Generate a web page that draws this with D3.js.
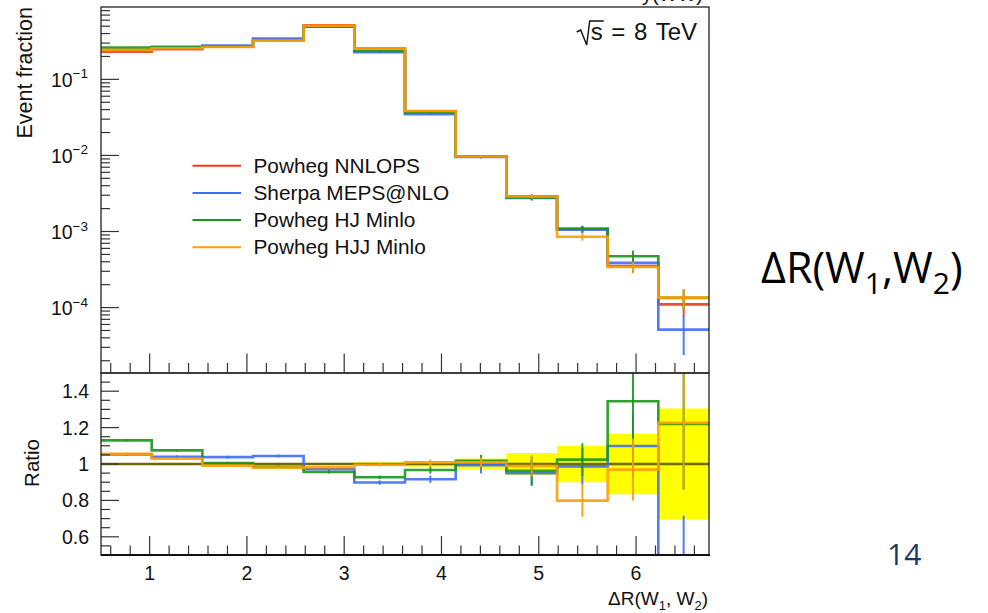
<!DOCTYPE html>
<html><head><meta charset="utf-8">
<script src="https://cdn.jsdelivr.net/npm/d3@7"></script>
<style>body{margin:0;background:#fff;} svg{display:block;}</style>
</head><body>
<svg id="c" width="988" height="613"></svg>
<script>
// ---------------- data ----------------
const binEdges = [0.5, 1.021, 1.542, 2.063, 2.583, 3.104, 3.625, 4.146, 4.667, 5.188, 5.708, 6.229, 6.75];
const seriesNames = ["Powheg NNLOPS", "Sherpa MEPS@NLO", "Powheg HJ Minlo", "Powheg HJJ Minlo"];
const seriesColors = ["#ee3b1e", "#3f6ef6", "#1b961d", "#ff9d00"];
// event fraction per bin
const nnlops = [0.231, 0.249, 0.269, 0.330, 0.515, 0.254, 0.0380, 0.0096, 0.00291, 0.00107, 0.000352, 0.000110];
const sherpa = [0.2432, 0.259, 0.2792, 0.3445, 0.5001, 0.2281, 0.0348, 0.00953, 0.00276, 0.001056, 0.000387, 0.0000513];
const hjMinlo = [0.261, 0.2677, 0.2703, 0.325, 0.4923, 0.2355, 0.03675, 0.00977, 0.0028, 0.001096, 0.000473, 0.000134];
const hjjMinlo = [0.2439, 0.2562, 0.2666, 0.3234, 0.5057, 0.253, 0.03834, 0.00969, 0.00288, 0.000855, 0.000341, 0.000135];
// ratio to Powheg NNLOPS
const ratioSherpa = [1.053, 1.040, 1.038, 1.044, 0.971, 0.898, 0.916, 0.993, 0.949, 0.987, 1.099, 0.466];
const ratioHJ = [1.130, 1.075, 1.005, 0.985, 0.956, 0.927, 0.967, 1.018, 0.962, 1.024, 1.345, 1.220];
const ratioHJJ = [1.056, 1.029, 0.991, 0.980, 0.982, 0.996, 1.009, 1.009, 0.989, 0.799, 0.969, 1.226];
// uncertainties (ratio units, half-width)
const bandNNLOPS = [0.005, 0.006, 0.006, 0.006, 0.006, 0.010, 0.015, 0.030, 0.060, 0.100, 0.166, 0.305];
const errSherpa = [0.007, 0.007, 0.008, 0.008, 0.008, 0.012, 0.020, 0.045, 0.070, 0.100, 0.170, 0.250];
const errHJ = [0.006, 0.006, 0.007, 0.007, 0.008, 0.010, 0.020, 0.032, 0.078, 0.090, 0.250, 0.360];
const errHJJ = [0.006, 0.006, 0.006, 0.006, 0.007, 0.010, 0.015, 0.027, 0.060, 0.090, 0.170, 0.360];
const xTicks = [1, 2, 3, 4, 5, 6];
const yTopTicks = [1e-1, 1e-2, 1e-3, 1e-4];
const yTopLabels = ["\u22121", "\u22122", "\u22123", "\u22124"];
const yRatioTicks = [0.6, 0.8, 1.0, 1.2, 1.4];
const yRatioLabels = ["0.6", "0.8", "1", "1.2", "1.4"];

// ---------------- layout ----------------
const svg = d3.select("#c");
const L = 101, R = 709, T = 7, MID = 373, B = 555;
const x = d3.scaleLinear().domain([0.5, 6.75]).range([L, R]);
const yTop = d3.scaleLog().domain([1.38e-5, 0.894]).range([MID, T]);
const yR = d3.scaleLinear().domain([0.5, 1.5]).range([B, MID]);
const FONT = "'Liberation Sans', Arial, Helvetica, sans-serif";
const tickColor = "#333";

const defs = svg.append("defs");
defs.append("clipPath").attr("id", "clipTop").append("rect").attr("x", L).attr("y", T).attr("width", R - L).attr("height", MID - T);
defs.append("clipPath").attr("id", "clipR").append("rect").attr("x", L).attr("y", MID).attr("width", R - L).attr("height", B - MID);

function stepPts(vals) {
  const pts = [];
  vals.forEach((v, i) => { pts.push([binEdges[i], v]); pts.push([binEdges[i + 1], v]); });
  return pts;
}
const centers = binEdges.slice(0, -1).map((e, i) => (e + binEdges[i + 1]) / 2);

// ---------------- top panel ----------------
const gTop = svg.append("g").attr("clip-path", "url(#clipTop)");
const topSeries = [
  {v: nnlops, r: nnlops.map(() => 1), e: bandNNLOPS, c: seriesColors[0]},
  {v: sherpa, r: ratioSherpa, e: errSherpa, c: seriesColors[1]},
  {v: hjMinlo, r: ratioHJ, e: errHJ, c: seriesColors[2]},
  {v: hjjMinlo, r: ratioHJJ, e: errHJJ, c: seriesColors[3]}
];
const lineTop = d3.line().x(d => x(d[0])).y(d => yTop(d[1]));
topSeries.forEach(s => {
  gTop.append("path").attr("d", lineTop(stepPts(s.v))).attr("fill", "none")
    .attr("stroke", s.c).attr("stroke-width", 2.6).attr("stroke-opacity", 0.9);
  s.v.forEach((v, i) => {
    const rel = s.e[i] / s.r[i];
    gTop.append("line").attr("x1", x(centers[i])).attr("x2", x(centers[i]))
      .attr("y1", yTop(v * (1 + rel))).attr("y2", yTop(Math.max(v * (1 - rel), 1e-7)))
      .attr("stroke", s.c).attr("stroke-width", 2).attr("stroke-opacity", 0.9);
  });
});

// ---------------- ratio panel ----------------
const gR = svg.append("g").attr("clip-path", "url(#clipR)");
gR.selectAll("rect.band").data(bandNNLOPS).join("rect")
  .attr("x", (d, i) => x(binEdges[i])).attr("width", (d, i) => x(binEdges[i + 1]) - x(binEdges[i]))
  .attr("y", d => yR(1 + d)).attr("height", d => yR(1 - d) - yR(1 + d)).attr("fill", "#ffff00");
gR.append("line").attr("x1", L).attr("x2", R).attr("y1", yR(1)).attr("y2", yR(1))
  .attr("stroke", "#6c6a00").attr("stroke-width", 2.4);
const lineR = d3.line().x(d => x(d[0])).y(d => yR(d[1]));
topSeries.slice(1).forEach(s => {
  gR.append("path").attr("d", lineR(stepPts(s.r))).attr("fill", "none")
    .attr("stroke", s.c).attr("stroke-width", 2.6).attr("stroke-opacity", 0.9);
  s.r.forEach((r, i) => {
    gR.append("line").attr("x1", x(centers[i])).attr("x2", x(centers[i]))
      .attr("y1", yR(r + s.e[i])).attr("y2", yR(r - s.e[i]))
      .attr("stroke", s.c).attr("stroke-width", 2).attr("stroke-opacity", 0.9);
  });
});

// ---------------- axes ----------------
const minorX = d3.range(0.6, 6.75, 0.2).filter(v => Math.abs(v - Math.round(v)) > 0.01);
function xTicksAt(yPos) {
  const g = svg.append("g");
  xTicks.forEach(v => g.append("line").attr("x1", x(v)).attr("x2", x(v)).attr("y1", yPos).attr("y2", yPos - 19).attr("stroke", tickColor).attr("stroke-width", 1.2));
  minorX.forEach(v => g.append("line").attr("x1", x(v)).attr("x2", x(v)).attr("y1", yPos).attr("y2", yPos - 9.5).attr("stroke", tickColor).attr("stroke-width", 1.2));
}
xTicksAt(MID - 0.5);
xTicksAt(B);

// top y axis ticks (log)
const gYT = svg.append("g");
const minorTop = [];
for (let k = -5; k <= -1; k++) for (let m = 2; m <= 9; m++) {
  const v = m * Math.pow(10, k);
  if (v > 1.38e-5 && v < 0.894) minorTop.push(v);
}
yTopTicks.forEach(v => gYT.append("line").attr("x1", L).attr("x2", L + 18).attr("y1", yTop(v)).attr("y2", yTop(v)).attr("stroke", tickColor).attr("stroke-width", 1.2));
minorTop.forEach(v => gYT.append("line").attr("x1", L).attr("x2", L + 9).attr("y1", yTop(v)).attr("y2", yTop(v)).attr("stroke", tickColor).attr("stroke-width", 1.2));
yTopTicks.forEach((v, i) => {
  const t = gYT.append("text").attr("x", 88).attr("y", yTop(v) + 7.5).attr("text-anchor", "end")
    .attr("font-family", FONT).attr("font-size", 19.5).attr("fill", "#111");
  t.append("tspan").text("10");
  t.append("tspan").attr("font-size", 13.5).attr("dy", -8.5).text(yTopLabels[i]);
});

// ratio y axis ticks
const gYR = svg.append("g");
const minorR = d3.range(0.55, 1.5, 0.05).filter(v => yRatioTicks.every(t => Math.abs(t - v) > 0.01));
yRatioTicks.forEach(v => gYR.append("line").attr("x1", L).attr("x2", L + 18).attr("y1", yR(v)).attr("y2", yR(v)).attr("stroke", tickColor).attr("stroke-width", 1.2));
minorR.forEach(v => gYR.append("line").attr("x1", L).attr("x2", L + 9).attr("y1", yR(v)).attr("y2", yR(v)).attr("stroke", tickColor).attr("stroke-width", 1.2));
yRatioTicks.forEach((v, i) => gYR.append("text").attr("x", 89).attr("y", yR(v) + 7).attr("text-anchor", "end")
  .attr("font-family", FONT).attr("font-size", 19.5).attr("fill", "#111").text(yRatioLabels[i]));

// x tick labels
xTicks.forEach(v => svg.append("text").attr("x", x(v)).attr("y", 580).attr("text-anchor", "middle")
  .attr("font-family", FONT).attr("font-size", 19.5).attr("fill", "#111").text(v));

// frames
svg.append("rect").attr("x", L).attr("y", T).attr("width", R - L).attr("height", MID - T)
  .attr("fill", "none").attr("stroke", "#222").attr("stroke-width", 1.3);
svg.append("rect").attr("x", L).attr("y", MID).attr("width", R - L).attr("height", B - MID)
  .attr("fill", "none").attr("stroke", "#222").attr("stroke-width", 1.3);
svg.append("line").attr("x1", L).attr("x2", R + 1).attr("y1", B).attr("y2", B).attr("stroke", "#111").attr("stroke-width", 2);

// axis titles
svg.append("text").attr("transform", "translate(32,7) rotate(-90)").attr("text-anchor", "end")
  .attr("font-family", FONT).attr("font-size", 21.5).attr("fill", "#111").text("Event fraction");
svg.append("text").attr("transform", "translate(38.5,463) rotate(-90)").attr("text-anchor", "middle")
  .attr("font-family", FONT).attr("font-size", 20.5).attr("fill", "#111").text("Ratio");
const xt = svg.append("text").attr("x", 708).attr("y", 605).attr("text-anchor", "end")
  .attr("font-family", FONT).attr("font-size", 19).attr("fill", "#111");
xt.append("tspan").text("\u0394R(W");
xt.append("tspan").attr("font-size", 13).attr("dy", 5).text("1");
xt.append("tspan").attr("dy", -5).text(", W");
xt.append("tspan").attr("font-size", 13).attr("dy", 5).text("2");
xt.append("tspan").attr("dy", -5).text(")");

// cut-off title above frame (only its lower part is visible, as in the reference)
svg.append("text").attr("x", 703).attr("y", 1).attr("text-anchor", "end")
  .attr("font-family", FONT).attr("font-size", 20).attr("fill", "#111").text("y(WW)");

// sqrt(s) label
const sqt = svg.append("text").attr("x", 697).attr("y", 40).attr("text-anchor", "end")
  .attr("font-family", FONT).attr("font-size", 24).attr("fill", "#111").attr("word-spacing", 2);
sqt.append("tspan").text("s");
sqt.append("tspan").text(" = 8 TeV");
const sn = sqt.node();
const sx = sn.getStartPositionOfChar(0).x;
const sw = sn.getSubStringLength(0, 1);
svg.append("path").attr("d", `M${sx - 14},32 L${sx - 10},30 L${sx - 4},45 L${sx - 1},21 L${sx + sw + 1},21`)
  .attr("fill", "none").attr("stroke", "#111").attr("stroke-width", 1.4);

// legend
const lg = svg.append("g");
seriesNames.forEach((n, i) => {
  const yy = 165.7 + i * 27.2;
  lg.append("line").attr("x1", 192.5).attr("x2", 241).attr("y1", yy).attr("y2", yy)
    .attr("stroke", seriesColors[i]).attr("stroke-width", 2);
  lg.append("text").attr("x", 253.5).attr("y", yy + 7).attr("font-family", FONT)
    .attr("font-size", 20.8).attr("fill", "#111").text(n);
});

// slide text
const st = svg.append("text").attr("x", 761).attr("y", 283).attr("font-family", "'Open Sans', 'Noto Sans', sans-serif")
  .attr("font-size", 43).attr("fill", "#000");
st.append("tspan").text("\u0394R(W");
st.append("tspan").attr("font-size", 30).attr("dy", 11).text("1");
st.append("tspan").attr("dy", -11).text(",W");
st.append("tspan").attr("font-size", 30).attr("dy", 11).text("2");
st.append("tspan").attr("dy", -11).text(")");
svg.append("text").attr("x", 887).attr("y", 565).attr("font-family", "'Open Sans', 'Noto Sans', sans-serif")
  .attr("font-size", 30).attr("fill", "#203864").text("14");
</script>
</body></html>
